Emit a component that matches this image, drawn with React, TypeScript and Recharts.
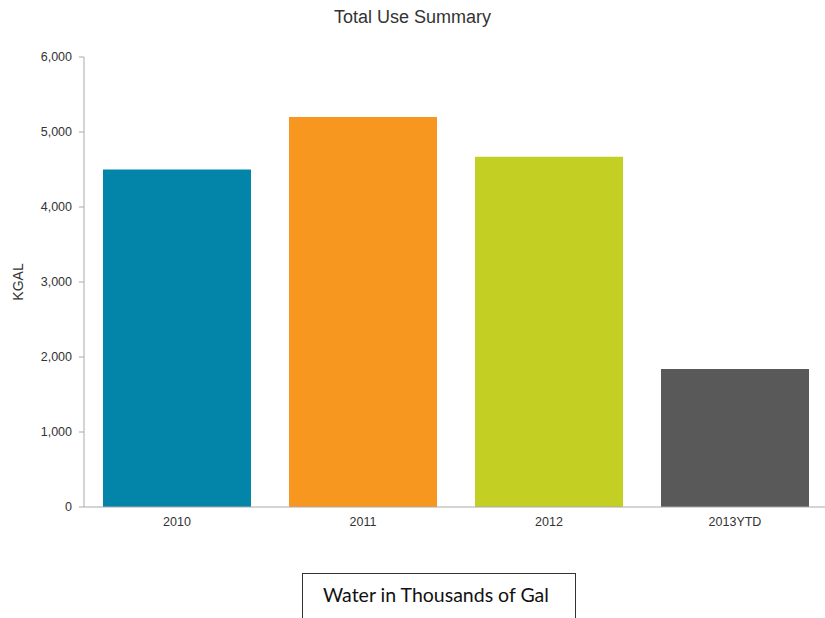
import React from "react";
import { BarChart, Bar, XAxis, YAxis, Cell } from "recharts";

const categories = ["2010", "2011", "2012", "2013YTD"];
const usage = [4500, 5200, 4670, 1840];
const barColors = ["#0385AA", "#F7971F", "#C3CF22", "#595959"];
const yTicks = [0, 1000, 2000, 3000, 4000, 5000, 6000];

const data = categories.map((name, i) => ({ name, value: usage[i] }));

const fmt = (v: number) => v.toLocaleString("en-US");
const font = "'Liberation Sans', Arial, sans-serif";

export default function App() {
  return (
    <div style={{ position: "absolute", left: 0, top: 0, width: 825, height: 618, overflow: "hidden", background: "#fff" }}>
      <div
        style={{
          position: "absolute",
          left: 0,
          width: 825,
          top: 7,
          textAlign: "center",
          fontFamily: font,
          fontSize: 18,
          color: "#333",
        }}
      >
        Total Use Summary
      </div>
      <BarChart
        width={828}
        height={618}
        data={data}
        margin={{ top: 57, right: 0, left: 0, bottom: 0 }}
        barSize={148}
      >
        <YAxis
          width={84}
          domain={[0, 6000]}
          ticks={yTicks}
          tickFormatter={fmt}
          axisLine={{ stroke: "#aaa" }}
          tickLine={{ stroke: "#aaa" }}
          tickSize={5}
          tickMargin={7}
          tick={{ fill: "#333", fontSize: 12.5, fontFamily: font }}
          label={{
            value: "KGAL",
            angle: -90,
            position: "insideLeft",
            dx: 13,
            style: { fill: "#333", fontSize: 14, fontFamily: font, textAnchor: "middle" },
          }}
          interval={0}
        />
        <XAxis
          dataKey="name"
          height={111}
          axisLine={{ stroke: "#aaa" }}
          tickLine={false}
          tickSize={8}
          tickMargin={2}
          tick={{ fill: "#333", fontSize: 12.5, fontFamily: font }}
          interval={0}
        />
        <Bar dataKey="value" isAnimationActive={false}>
          {data.map((d, i) => (
            <Cell key={d.name} fill={barColors[i]} />
          ))}
        </Bar>
      </BarChart>
      <div
        style={{
          position: "absolute",
          left: 302,
          top: 573,
          width: 274,
          height: 60,
          border: "1px solid #333",
          boxSizing: "border-box",
          fontFamily: "Lato, 'Open Sans', sans-serif",
          fontSize: 19.5,
          color: "#111",
          paddingTop: 9,
          paddingLeft: 20,
          whiteSpace: "nowrap",
        }}
      >
        Water in Thousands of Gal
      </div>
    </div>
  );
}
